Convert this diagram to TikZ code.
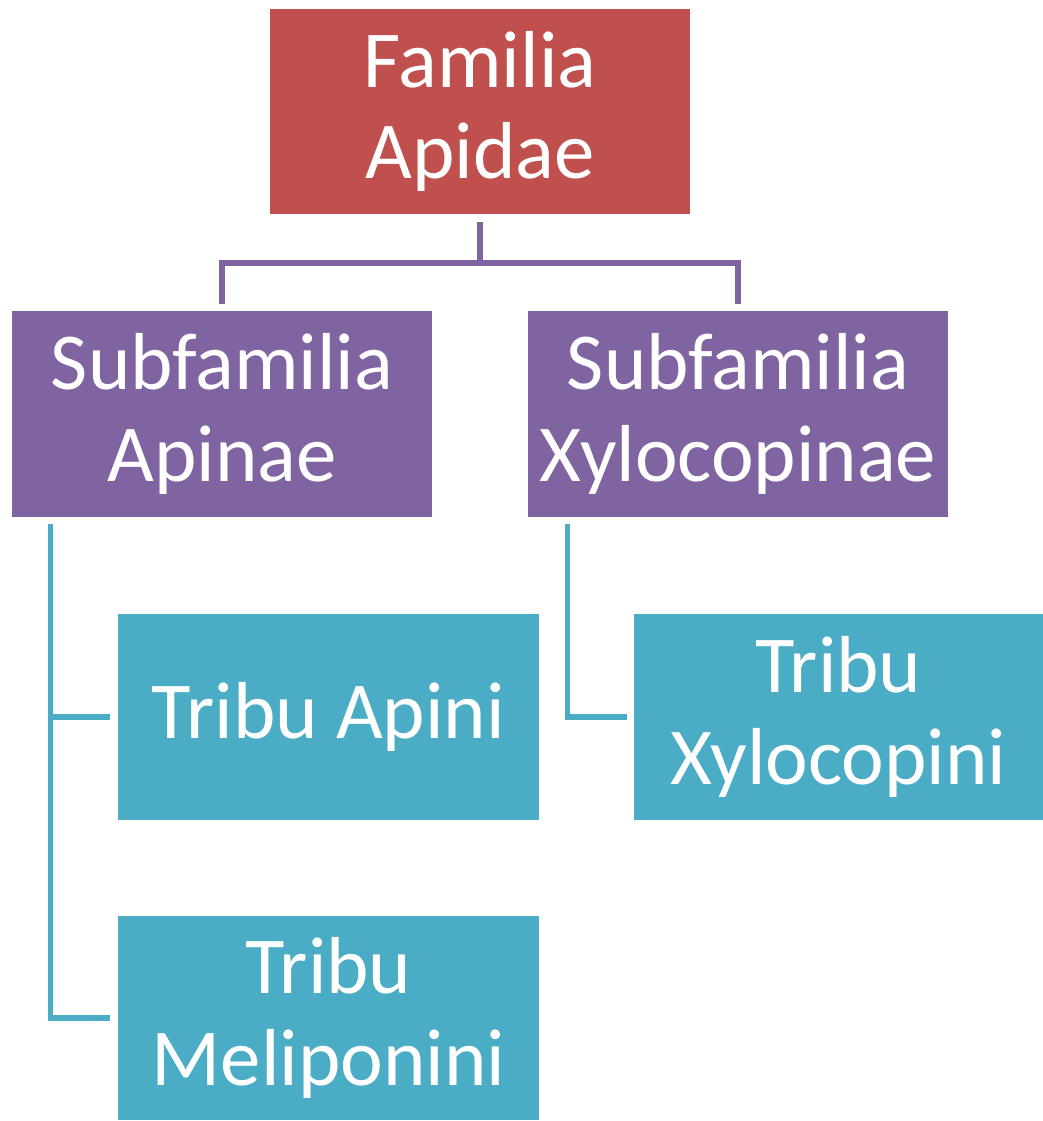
\documentclass[tikz,border=0pt]{standalone}
\usepackage{fontspec}
\setmainfont{Carlito}
\usepackage{tikz}
\usetikzlibrary{positioning, calc}
\definecolor{famred}{HTML}{C0504D}
\definecolor{subpurple}{HTML}{8064A2}
\definecolor{tribteal}{HTML}{4BACC6}
\tikzset{
  taxbox/.style={fill=#1, text=white, align=center, inner sep=0pt,
    minimum width=8.42cm, minimum height=4.12cm,
    font=\fontsize{46}{52}\selectfont},
  famwire/.style={draw=subpurple, line width=2.9pt},
  tribwire/.style={draw=tribteal, line width=2.9pt}
}

\begin{document}
\begin{tikzpicture}[x=0.02cm, y=-0.02cm]
        \useasboundingbox (0,0) rectangle (1043,1121);
        \node[taxbox=famred] (fam) at (480,111.5) {Familia\\Apidae};
        \node[taxbox=subpurple, minimum width=8.4cm] (apinae) at (222,414) {Subfamilia\\Apinae};
        \node[taxbox=subpurple, minimum width=8.4cm] (xylocopinae) at (738,414) {Subfamilia\\Xylocopinae};
        \node[taxbox=tribteal] (apini) at (328.5,717) {Tribu Apini};
        \node[taxbox=tribteal, minimum height=4.08cm] (meliponini) at (328.5,1018) {Tribu\\Meliponini};
        \node[taxbox=tribteal, minimum width=8.18cm] (xylocopini) at (838.5,717) {Tribu\\Xylocopini};
        % familia -> subfamilias
        \coordinate (famjoin) at (480,263);
        \draw[famwire] ([yshift=-0.14cm]fam.south) -- (famjoin);
        \draw[famwire] (famjoin) -| ([yshift=0.14cm]apinae.north);
        \draw[famwire] (famjoin) -| ([yshift=0.14cm]xylocopinae.north);
        % subfamilias -> tribus
        \coordinate (apstem) at ([xshift=0.78cm, yshift=-0.14cm]apinae.south west);
        \draw[tribwire] (apstem) |- ([xshift=-0.16cm]meliponini.west);
        \draw[tribwire] (apstem |- apini.west) -- ([xshift=-0.16cm]apini.west);
        \coordinate (xystem) at ([xshift=0.8cm, yshift=-0.14cm]xylocopinae.south west);
        \draw[tribwire] (xystem) |- ([xshift=-0.14cm]xylocopini.west);
\end{tikzpicture}
\end{document}
